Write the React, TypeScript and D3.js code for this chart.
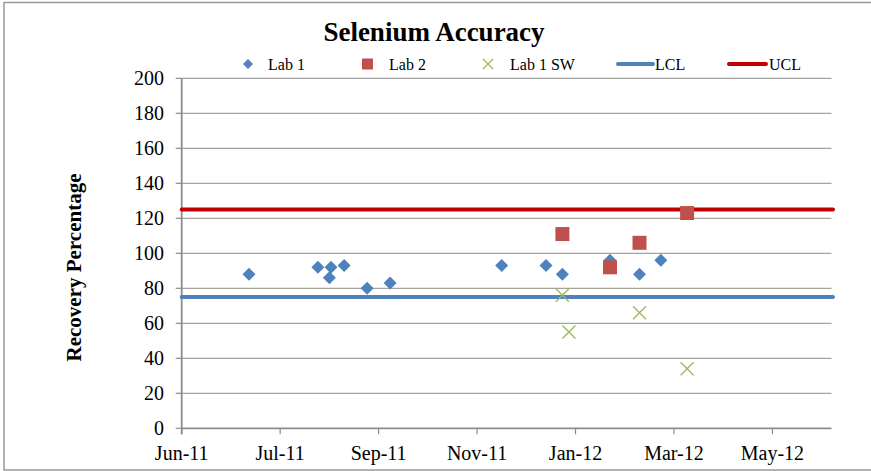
import React from "react";
import * as d3 from "d3";

const lab1Dates = ["2011-07-12","2011-08-23","2011-08-31","2011-08-30","2011-09-08","2011-09-22","2011-10-06","2011-12-13","2012-01-09","2012-01-19","2012-02-17","2012-03-06","2012-03-19"];
const lab1Values = [88, 92, 92, 86, 93, 80, 83, 93, 93, 88, 96, 88, 96];
const lab2Dates = ["2012-01-19","2012-02-17","2012-03-06","2012-04-04"];
const lab2Values = [111, 92, 106, 123];
const swDates = ["2012-01-19","2012-01-23","2012-03-06","2012-04-04"];
const swValues = [76, 55, 66, 34];
const lclValue = 75;
const uclValue = 125;
const yTicks = [0, 20, 40, 60, 80, 100, 120, 140, 160, 180, 200];
const xStart = "2011-06-01";
const xEnd = "2012-07-01";
const tickStepDays = 60;

const parse = d3.utcParse("%Y-%m-%d");
const fmt = d3.utcFormat("%b-%y");

export default function App() {
  const W = 871, H = 471;
  const left = 181.7, right = 831.5, top = 78.3, bottom = 428.3;
  const x = d3.scaleUtc().domain([parse(xStart)!, parse(xEnd)!]).range([left, right]);
  const y = d3.scaleLinear().domain([0, 200]).range([bottom, top]);
  const xTicks = d3.utcDay.every(tickStepDays) ? d3.range(0, 7).map(i => d3.utcDay.offset(parse(xStart)!, i * tickStepDays)) : [];
  const font = "'Liberation Serif', 'Times New Roman', serif";
  const gridC = "#8c8c8c";
  const blue = "#4F81BD", red = "#C0504D", green = "#9BBB59", ucl = "#C00000";
  const diamond = (cx: number, cy: number, r: number) => `M${cx},${cy - r}L${cx + r},${cy}L${cx},${cy + r}L${cx - r},${cy}Z`;
  const lineEnd = right + 1.5;

  return (
    <svg width={W} height={H} style={{ position: "absolute", left: 0, top: 0, background: "#fff" }}>
      <rect x={4} y={2.5} width={W + 10} height={467.5} fill="#fff" stroke="#999" strokeWidth={1.5} />
      <text x={434} y={41} textAnchor="middle" fontFamily={font} fontWeight="bold" fontSize={27}>Selenium Accuracy</text>

      {/* legend */}
      <g fontFamily={font} fontSize={16}>
        <path d={diamond(248, 64, 5)} fill={blue} />
        <text x={268} y={69.5}>Lab 1</text>
        <rect x={362} y={58.5} width={11} height={11} fill={red} />
        <text x={389} y={69.5}>Lab 2</text>
        <path d={`M${483},${59}L${493},${69}M${493},${59}L${483},${69}`} stroke={green} strokeWidth={1.3} />
        <text x={510} y={69.5}>Lab 1 SW</text>
        <line x1={618} x2={653} y1={64} y2={64} stroke={blue} strokeWidth={4} strokeLinecap="round" />
        <text x={655} y={69.5}>LCL</text>
        <line x1={729} x2={766} y1={64} y2={64} stroke={ucl} strokeWidth={4} strokeLinecap="round" />
        <text x={769} y={69.5}>UCL</text>
      </g>

      {/* gridlines */}
      {yTicks.filter(t => t > 0).map(t => (
        <line key={t} x1={left} x2={right} y1={y(t)} y2={y(t)} stroke={gridC} strokeWidth={1} />
      ))}

      {/* y axis */}
      <line x1={left} x2={left} y1={top} y2={bottom + 6} stroke={gridC} strokeWidth={1.8} />
      {yTicks.map(t => (
        <g key={t}>
          <line x1={left - 6} x2={left} y1={y(t)} y2={y(t)} stroke={gridC} strokeWidth={1.2} />
          <text x={164} y={y(t) + 6.8} textAnchor="end" fontFamily={font} fontSize={20}>{t}</text>
        </g>
      ))}

      {/* x axis */}
      <line x1={left} x2={right} y1={bottom} y2={bottom} stroke={gridC} strokeWidth={1.8} />
      {xTicks.map((d, i) => (
        <g key={i}>
          <line x1={x(d)} x2={x(d)} y1={bottom} y2={bottom + 6} stroke={gridC} strokeWidth={1.2} />
          <text x={x(d)} y={460} textAnchor="middle" fontFamily={font} fontSize={20}>{fmt(d)}</text>
        </g>
      ))}

      <text transform={`translate(81,267.5) rotate(-90)`} textAnchor="middle" fontFamily={font} fontWeight="bold" fontSize={21}>Recovery Percentage</text>

      {/* control lines */}
      <line x1={left} x2={lineEnd} y1={y(lclValue)} y2={y(lclValue)} stroke={blue} strokeWidth={4} strokeLinecap="round" />
      <line x1={left} x2={lineEnd} y1={y(uclValue)} y2={y(uclValue)} stroke={ucl} strokeWidth={4} strokeLinecap="round" />

      {/* Lab 1 */}
      {lab1Dates.map((d, i) => (
        <path key={"a" + i} d={diamond(x(parse(d)!), y(lab1Values[i]), 6.5)} fill={blue} />
      ))}
      {/* Lab 2 */}
      {lab2Dates.map((d, i) => (
        <rect key={"b" + i} x={x(parse(d)!) - 7} y={y(lab2Values[i]) - 7} width={14} height={14} fill={red} />
      ))}
      {/* Lab 1 SW */}
      {swDates.map((d, i) => {
        const cx = x(parse(d)!), cy = y(swValues[i]), r = 6.5;
        return <path key={"c" + i} d={`M${cx - r},${cy - r}L${cx + r},${cy + r}M${cx + r},${cy - r}L${cx - r},${cy + r}`} stroke={green} strokeWidth={1.3} fill="none" />;
      })}
    </svg>
  );
}
